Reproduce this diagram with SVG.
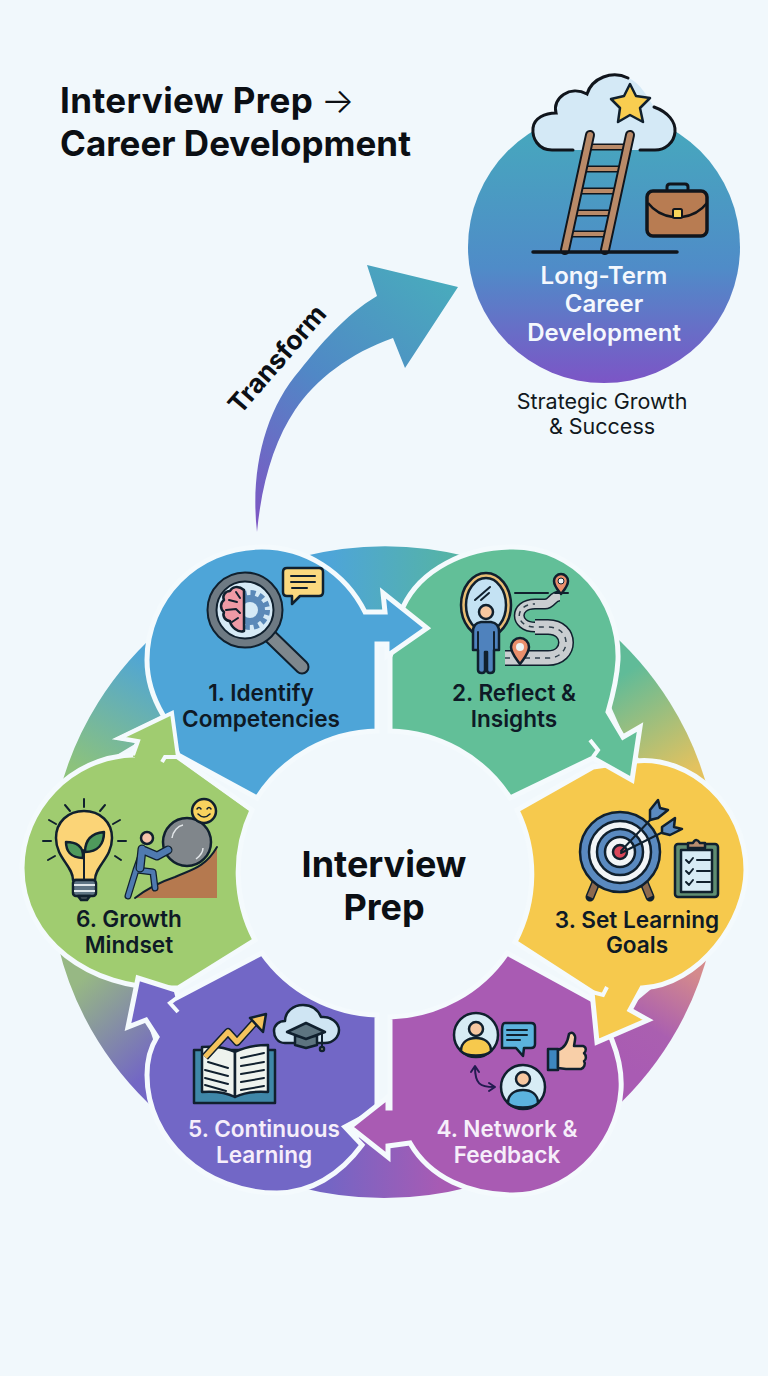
<svg xmlns="http://www.w3.org/2000/svg" width="768" height="1376" viewBox="0 0 768 1376">
<style>
.t{font-family:Inter,"Liberation Sans",sans-serif;font-weight:600;font-size:22.6px;text-anchor:middle}
.dk{fill:#0e1a26}
.wt{fill:#f6eefa}
.blob{stroke:#f4fafd;stroke-width:5;stroke-linejoin:miter}
.hook{fill:none;stroke:#f4fafd;stroke-width:4}
.o{stroke:#10202e;stroke-width:2.5;stroke-linejoin:round;stroke-linecap:round}
.l{fill:none;stroke:#10202e;stroke-width:2;stroke-linecap:round;stroke-linejoin:round}
</style>
<defs>
<linearGradient id="gC" gradientUnits="userSpaceOnUse" x1="604" y1="125" x2="604" y2="383"><stop offset="0" stop-color="#46a8bd"/><stop offset=".55" stop-color="#4f8cc8"/><stop offset="1" stop-color="#7c55c6"/></linearGradient>
<linearGradient id="gA" gradientUnits="userSpaceOnUse" x1="257" y1="520" x2="440" y2="280"><stop offset="0" stop-color="#7c58c4"/><stop offset=".5" stop-color="#5088c6"/><stop offset="1" stop-color="#49aabd"/></linearGradient>
<linearGradient id="r1" gradientUnits="userSpaceOnUse" x1="330" y1="560" x2="450" y2="560"><stop offset="0" stop-color="#4ea5d8"/><stop offset="1" stop-color="#55b3a6"/></linearGradient>
<linearGradient id="r2" gradientUnits="userSpaceOnUse" x1="630" y1="670" x2="690" y2="770"><stop offset="0" stop-color="#60bb98"/><stop offset="1" stop-color="#e3c25f"/></linearGradient>
<linearGradient id="r3" gradientUnits="userSpaceOnUse" x1="690" y1="970" x2="630" y2="1070"><stop offset="0" stop-color="#d48a8c"/><stop offset=".6" stop-color="#aa5fb0"/><stop offset="1" stop-color="#a95bb3"/></linearGradient>
<linearGradient id="r4" gradientUnits="userSpaceOnUse" x1="440" y1="1180" x2="330" y2="1180"><stop offset="0" stop-color="#a75bb4"/><stop offset="1" stop-color="#7565c4"/></linearGradient>
<linearGradient id="r5" gradientUnits="userSpaceOnUse" x1="150" y1="1070" x2="75" y2="985"><stop offset="0" stop-color="#7367c4"/><stop offset="1" stop-color="#97b884"/></linearGradient>
<linearGradient id="r6" gradientUnits="userSpaceOnUse" x1="80" y1="770" x2="145" y2="655"><stop offset="0" stop-color="#8cc27c"/><stop offset="1" stop-color="#4fa5d6"/></linearGradient>
</defs>
<rect width="768" height="1376" fill="#f1f8fc"/>

<g id="title" class="heading">
<text x="60" y="113" style="font-family:Inter,'Liberation Sans',sans-serif;font-weight:700;font-size:35px;letter-spacing:.4px" fill="#0b0f14">Interview Prep <tspan x="321" style="font-weight:300">→</tspan></text>
<text x="60" y="156" style="font-family:Inter,'Liberation Sans',sans-serif;font-weight:700;font-size:35px" fill="#0b0f14">Career Development</text>
</g>

<g id="connectors">
<path fill="url(#gA)" d="M257 532C250 470 265 410 300 370C320 345 345 315 377 296L367 265L458 287L405 368L393 338C350 353 315 380 295 410C275 440 262 480 257 532Z"/>
<text class="t" transform="translate(284 365) rotate(-49)" style="font-weight:700;font-size:26.3px" fill="#0b0f14">Transform</text>
<path fill="url(#r1)" d="M300 557A335 326 0 0 1 470 557L386 625L340 600Z"/>
<path fill="url(#r2)" d="M601 624A335 326 0 0 1 710 798L650 772L628 745L608 700Z"/>
<path fill="url(#r3)" d="M710 945A335 326 0 0 1 603 1119L605 1060L620 1015L680 965Z"/>
<path fill="url(#r4)" d="M470 1187A335 326 0 0 1 298 1187L362 1135L410 1135Z"/>
<path fill="url(#r5)" d="M167 1120A335 326 0 0 1 58 945L140 985L140 1000L160 1060Z"/>
<path fill="url(#r6)" d="M58 798A335 326 0 0 1 167 624L170 700L150 735L100 765Z"/>
</g>

<g id="node-6">
<path class="blob" fill="#a0cc70" d="M252 810A146 146 0 0 0 255 940L178 988H170C90 990 22 940 22 868C22 810 70 757 133 755L138 741L120 738L172 713L178 757Z"/>
<text class="t dk" x="129" y="927">6. Growth</text>
<text class="t dk" x="129" y="953">Mindset</text>
<g id="icon-6">
<path class="l" d="M84 799V807M65 805L70 811M105 805L100 811M49 820L56 824M120 820L113 824M43 841H51M118 841H126M48 860L55 856M121 860L115 856"/>
<path class="o" fill="#fbd477" d="M73 880C73 866 56 858 56 838C56 822 68 811 84 811C100 811 112 822 112 838C112 858 95 866 95 880Z"/>
<rect class="o" x="73" y="880" width="23" height="16" rx="3" fill="#5f7585"/>
<path d="M74 885H95M74 891H95" stroke="#dfe6ea" stroke-width="2"/>
<path class="o" fill="#44505a" d="M78 896H90L87 900H81Z"/>
<path class="l" d="M84 880V850"/>
<path class="o" fill="#4f9a5c" d="M83 858C70 858 66 850 66 842C76 842 84 846 83 858Z"/>
<path class="o" fill="#4f9a5c" d="M85 852C85 838 94 833 104 832C104 844 98 852 85 852Z"/>
<path fill="#b5794f" d="M135 898L217 898V847C205 868 190 870 175 877C160 882 148 888 135 898Z"/>
<path class="l" d="M135 898C148 888 160 882 175 877C190 870 205 868 217 847"/>
<circle class="o" cx="187" cy="842" r="24" fill="#80868b"/>
<path fill="none" stroke="#e2e6e9" stroke-width="1.5" d="M172 838C173 831 178 826 183 825M196 859C200 856 203 852 203 848"/>
<circle class="o" cx="204" cy="811" r="12" fill="#f8d25e"/>
<path fill="none" stroke="#10202e" stroke-width="1.5" stroke-linecap="round" d="M197 809Q199 806 201 809M207 809Q209 806 211 809M198 814Q204 820 210 814"/>
<path d="M143 850L136 870L128 896M137 870L153 872L155 888" fill="none" stroke="#10202e" stroke-width="7" stroke-linecap="round" stroke-linejoin="round"/>
<path d="M143 850L136 870L128 896M137 870L153 872L155 888" fill="none" stroke="#4f7ab0" stroke-width="4.5" stroke-linecap="round" stroke-linejoin="round"/>
<path d="M142 849L140 868M143 850L157 856L168 850" fill="none" stroke="#10202e" stroke-width="9" stroke-linecap="round" stroke-linejoin="round"/>
<path d="M142 849L140 868M143 850L157 856L168 850" fill="none" stroke="#4f7ab0" stroke-width="6.5" stroke-linecap="round" stroke-linejoin="round"/>
<circle class="o" cx="147" cy="838" r="6" fill="#f6c4aa"/>
</g>
</g>

<g id="node-5">
<path class="blob" fill="#7267c6" d="M262 953A146 146 0 0 0 377 1015V1110L345 1127L362 1145C340 1175 310 1193 277 1193C205 1193 147 1140 147 1075C147 1060 150 1048 157 1037L146 1020L128 1027L138 978L176 990L178 997Z"/>
<path class="hook" d="M178 997L170 1003L178 1012"/>
<text class="t wt" x="264" y="1137">5. Continuous</text>
<text class="t wt" x="264" y="1163">Learning</text>
<g id="icon-5">
<rect class="o" x="194" y="1050" width="81" height="53" fill="#3f87a8"/>
<path class="o" fill="#eef3ee" d="M202 1047C216 1046 227 1048 235 1052V1097C227 1093 216 1091 202 1092Z"/>
<path class="o" fill="#eef3ee" d="M268 1045C254 1045 243 1048 235 1052V1097C243 1093 254 1091 268 1092Z"/>
<path class="l" d="M208 1062L228 1068M205 1070L228 1076M205 1078L228 1084M205 1085L226 1091M241 1058L264 1053M241 1066L264 1062M241 1074L264 1070M241 1082L264 1078M241 1090L264 1086"/>
<path d="M205 1057L228 1032L237 1042L255 1022" fill="none" stroke="#10202e" stroke-width="8" stroke-linejoin="round"/>
<path d="M205 1057L228 1032L237 1042L255 1022" fill="none" stroke="#f4c35d" stroke-width="5" stroke-linejoin="round"/>
<path class="o" fill="#f4c35d" d="M250 1018L266 1014L263 1032Z"/>
<path class="o" fill="#cfe5f3" d="M285 1043C277 1043 274 1036 274 1031C274 1025 279 1021 285 1021C285 1012 293 1005 303 1005C312 1005 318 1010 321 1017C331 1016 339 1023 339 1030C339 1037 333 1043 325 1043Z"/>
<path class="o" fill="#5d7480" d="M295 1036H317V1045L306 1048L295 1045Z"/>
<path class="o" fill="#5d7480" d="M287 1032L306 1023L325 1032L306 1039Z"/>
<path class="l" d="M322 1033V1047"/>
<circle class="o" cx="322" cy="1049" r="2" fill="#e8d9a8"/>
</g>
</g>

<g id="node-4">
<path class="blob" fill="#a95bb3" d="M507 953L593 1000L612 1040C620 1060 622 1075 621 1090C617 1150 565 1195 513 1195C470 1195 430 1178 410 1143L388 1146V1157L350 1127L388 1097V1108H390V1017A146 146 0 0 0 507 953Z"/>
<text class="t wt" x="507" y="1137">4. Network &amp;</text>
<text class="t wt" x="507" y="1163">Feedback</text>
<g id="icon-4">
<circle class="o" cx="476" cy="1035" r="22" fill="#d7ecf5"/>
<path class="o" fill="#f6c94d" d="M461 1051C461 1042 468 1038 476 1038C484 1038 491 1042 491 1051C486 1057 466 1057 461 1051Z"/>
<circle class="o" cx="476" cy="1029" r="7" fill="#f6c7a0"/>
<path class="o" fill="#5cb3de" d="M505 1023H531Q535 1023 535 1027V1044Q535 1048 531 1048H524L523 1056L516 1048H502V1030Q502 1023 505 1023Z"/>
<path class="l" d="M507 1030H527M507 1035H527M507 1040H520"/>
<circle class="o" cx="523" cy="1087" r="22" fill="#d7ecf5"/>
<path class="o" fill="#5cb3de" d="M508 1103C508 1094 515 1090 523 1090C531 1090 538 1094 538 1103C533 1109 513 1109 508 1103Z"/>
<circle class="o" cx="523" cy="1079" r="7" fill="#f6c7a0"/>
<path fill="none" stroke="#231b50" stroke-width="2" stroke-linecap="round" stroke-linejoin="round" d="M475 1067C475 1084 480 1087 494 1087M471 1072L475 1066L479 1072M489 1083L495 1087L489 1091"/>
<rect class="o" x="548" y="1049" width="10" height="21" fill="#3d86bf"/>
<path class="o" fill="#f8cfa8" d="M558 1050C566 1048 568 1040 569 1034C572 1031 576 1034 575 1040L574 1046H583C587 1047 586 1052 584 1053C587 1056 586 1060 584 1061C586 1064 584 1068 581 1069H566L558 1068Z"/>
</g>
</g>

<g id="node-3">
<path class="blob" fill="#f6c94d" d="M517 810L593 767L635 761C690 755 746 805 746 870C746 920 700 985 642 988L630 1010L648 1020L597 1042L592 992L515 942A146 146 0 0 0 517 810Z"/>
<path class="hook" d="M592 992L603 995L607 987"/>
<text class="t dk" x="637" y="928">3. Set Learning</text>
<text class="t dk" x="637" y="953">Goals</text>
<g id="icon-3">
<path d="M597 880L590 897M643 880L650 897" stroke="#10202e" stroke-width="9" stroke-linecap="round"/>
<path d="M597 880L590 897M643 880L650 897" stroke="#8d6a4e" stroke-width="6"/>
<circle class="o" cx="620" cy="852" r="40" fill="#5a8ac0"/>
<circle class="o" cx="620" cy="852" r="31" fill="#f2f5f7"/>
<circle class="o" cx="620" cy="852" r="23" fill="#5a8ac0"/>
<circle class="o" cx="620" cy="852" r="15" fill="#f2f5f7"/>
<circle class="o" cx="620" cy="852" r="7" fill="#d9475a"/>
<path class="l" d="M621 851L652 818M621 853L663 832"/>
<path class="o" fill="#5a8ac0" d="M650 810L658 800L660 808L668 810L658 818L650 820Z"/>
<path class="o" fill="#5a8ac0" d="M662 827L675 818L674 827L682 829L670 835L662 833Z"/>
<rect class="o" x="675" y="844" width="43" height="53" rx="3" fill="#5f8d72"/>
<rect class="o" x="681" y="850" width="31" height="42" fill="#d7ebf5" stroke-width="1.5"/>
<path class="o" fill="#b98d6f" d="M688 848V843H693Q696 837 700 843H705V848Z"/>
<path class="l" d="M686 860L689 863L693 858M697 860H710M686 871L689 874L693 869M697 871H710M686 882L689 885L693 880M697 882H710"/>
</g>
</g>

<g id="node-2">
<path class="blob" fill="#62bf98" d="M390 731V657L403 607C420 570 465 547 513 547C575 547 620 600 618 660C617 680 612 698 608 712L623 737L640 727L632 780L593 758L510 798A146 146 0 0 0 390 731Z"/>
<path class="hook" d="M593 757L598 750L590 740"/>
<text class="t dk" x="514" y="701">2. Reflect &amp;</text>
<text class="t dk" x="514" y="727">Insights</text>
<g id="icon-2">
<ellipse cx="486" cy="605" rx="25" ry="32" fill="#e9be75" class="o"/>
<ellipse cx="486" cy="605" rx="20" ry="27" fill="#c4e2f3" class="o"/>
<path class="l" d="M475 600L490 587M481 600L489 593" stroke-width="1.5"/>
<path class="o" fill="#4f82bd" d="M473 632Q473 623 481 622H491Q499 623 499 632V650H494V670Q494 673 490 673Q487 673 487 670V652H485V670Q485 673 482 673Q478 673 478 670V650H473Z"/>
<path class="l" d="M478 632V650M494 632V650" stroke-width="1.5"/>
<circle class="o" cx="486" cy="612" r="7" fill="#f6c7a0"/>
<path d="M505 658H548C572 658 572 627 548 627H535" fill="none" stroke="#10202e" stroke-width="16"/>
<path d="M540 627H535C514 627 514 604 535 604H545C552 604 552 596 560 596" fill="none" stroke="#10202e" stroke-width="11"/>
<path d="M505 658H548C572 658 572 627 548 627H535" fill="none" stroke="#c9cdd0" stroke-width="13"/>
<path d="M540 627H535C514 627 514 604 535 604H545C552 604 552 596 560 596" fill="none" stroke="#c9cdd0" stroke-width="8"/>
<path d="M505 658H548C572 658 572 627 548 627H535C514 627 514 604 535 604" fill="none" stroke="#30404c" stroke-width="1.5" stroke-dasharray="5 5"/>
<path class="l" d="M515 593H548M555 593H568" stroke-width="1.5"/>
<path class="o" fill="#ea8f6c" d="M520 664C515 657 511 653 511 647A9 9 0 0 1 529 647C529 653 525 657 520 664Z" stroke-width="2"/>
<circle cx="520" cy="647" r="4" fill="#eef3f4"/>
<path class="o" fill="#ea8f6c" d="M561 594C557 589 554 586 554 581A7 7 0 0 1 568 581C568 586 565 589 561 594Z" stroke-width="2"/>
<circle cx="561" cy="581" r="3" fill="#eef3f4" stroke="#10202e"/>
</g>
</g>

<g id="node-1">
<path class="blob" fill="#4ea5d8" d="M377 731V644H387V656L427 628L383 593L385 612H365C345 572 305 547 262 547C195 547 147 600 147 660C147 680 153 698 163 715L178 755L257 798A146 146 0 0 1 377 731Z"/>
<text class="t dk" x="261" y="701">1. Identify</text>
<text class="t dk" x="261" y="727">Competencies</text>
<g id="icon-1">
<path d="M270 636L302 667" stroke="#10202e" stroke-width="15" stroke-linecap="round"/>
<path d="M270 636L302 667" stroke="#7e878d" stroke-width="11" stroke-linecap="round"/>
<circle cx="245" cy="610" r="33" fill="#d6eaf6" stroke="#10202e" stroke-width="11"/>
<circle cx="245" cy="610" r="33" fill="none" stroke="#6e7a83" stroke-width="7"/>
<circle cx="250" cy="610" r="17" fill="none" stroke="#5b89b8" stroke-width="6" stroke-dasharray="5 3.9"/>
<circle cx="250" cy="610" r="15" fill="#5b89b8"/>
<circle cx="250" cy="610" r="8" fill="#d6eaf6"/>
<path class="o" fill="#ee9aa5" stroke-width="1.5" d="M244 590C238 585 232 587 230 591C225 591 222 596 224 600C220 603 220 609 224 612C222 617 226 621 230 621C231 627 238 633 244 631Z"/>
<path class="l" stroke-width="1.2" d="M229 600L237 602M226 610L236 609L240 613M232 622L238 618M236 592L240 598"/>
<path class="o" fill="#fbd97f" d="M287 568H319Q323 568 323 572V592Q323 596 319 596H300L292 604V596H287Q283 596 283 592V572Q283 568 287 568Z"/>
<path class="l" d="M291 576H315M291 582H315M292 588H307"/>
</g>
</g>

<g id="connector-overlay">
<path fill="#a0cc70" d="M133 757L138 741L120 738L172 713L178 757Z"/>
<path class="hook" stroke-width="5" d="M133 755L138 741L120 738L172 713L178 757L252 810"/>
<path class="hook" d="M178 757L165 757L162 762"/>
</g>

<g id="node-career">
<circle cx="604" cy="247" r="136" fill="url(#gC)"/>
<path fill="#d4e9f6" d="M552 150C538 150 532 138 533 128C534 118 545 113 556 113C552 98 570 85 587 94C592 78 612 70 628 78C640 82 648 98 654 107C668 112 676 122 675 132C674 143 665 150 655 150Z"/>
<path fill="none" stroke="#10151c" stroke-width="3" stroke-linecap="round" d="M573 150H552C538 150 532 138 533 128C534 118 545 113 556 113C552 98 570 85 587 94C592 78 612 70 628 78M654 107C668 112 676 122 675 132C674 143 665 150 655 150H640"/>
<path class="o" fill="#f8cd50" stroke-width="3" stroke="#10151c" d="M630 84L636 96L650 98L640 108L643 122L630 115L618 122L620 108L611 99L624 96Z"/>
<path d="M587.4 147H627.4M582.6 169H622.6M577.8 191H617.8M573 213H613M568.5 234H608.5" stroke="#10151c" stroke-width="7"/>
<path d="M587.4 147H627.4M582.6 169H622.6M577.8 191H617.8M573 213H613M568.5 234H608.5" stroke="#b98a68" stroke-width="4"/>
<path d="M590 135L565 250M630 135L605 250" stroke="#10151c" stroke-width="10" stroke-linecap="round"/>
<path d="M590 135L565 250M630 135L605 250" stroke="#b98a68" stroke-width="6" stroke-linecap="round"/>
<path d="M533 252H677" stroke="#10151c" stroke-width="3.5" stroke-linecap="round"/>
<path fill="none" stroke="#10151c" stroke-width="3" d="M667 191V187Q667 184 670 184H685Q688 184 688 187V191"/>
<rect x="647" y="191" width="60" height="45" rx="6" fill="#b87c52" stroke="#10151c" stroke-width="3.5"/>
<path fill="none" stroke="#10151c" stroke-width="2.5" d="M648 203C655 212 665 216 673 217M707 203C700 212 690 216 682 217"/>
<rect x="673" y="209" width="9" height="9" rx="1.5" fill="#f8d55a" stroke="#10151c" stroke-width="2"/>
<text class="t" x="604" y="284" style="font-size:24px" fill="#f4f8fd">Long-Term</text>
<text class="t" x="604" y="312" style="font-size:24px" fill="#f4f8fd">Career</text>
<text class="t" x="604" y="341" style="font-size:24px" fill="#f4f8fd">Development</text>
<text class="t" x="602" y="409" style="font-weight:400;font-size:21.5px" fill="#111820">Strategic Growth</text>
<text class="t" x="602" y="434" style="font-weight:400;font-size:21.5px" fill="#111820">&amp; Success</text>
</g>

<g id="node-center">
<text class="t" x="384" y="877" style="font-weight:700;font-size:36px" fill="#0b0f14">Interview</text>
<text class="t" x="384" y="920" style="font-weight:700;font-size:36px" fill="#0b0f14">Prep</text>
</g>
</svg>
